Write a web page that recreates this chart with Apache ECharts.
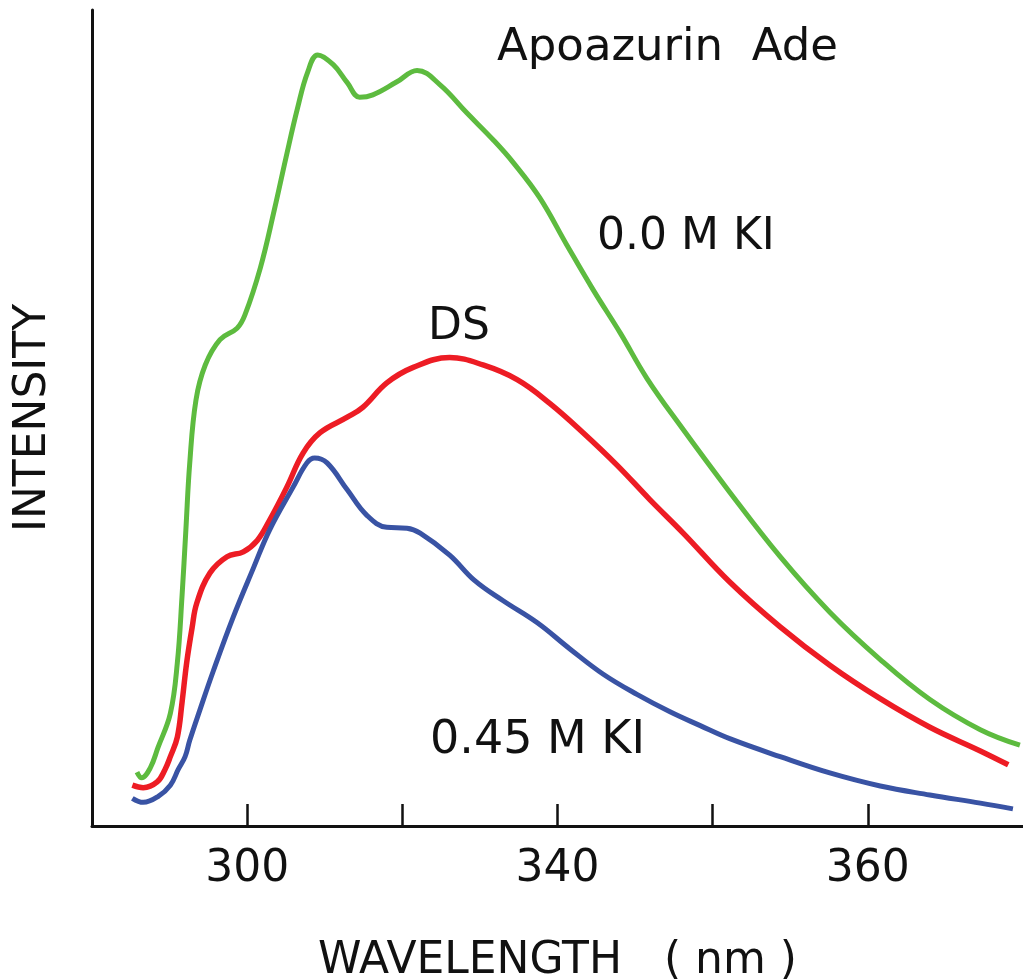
<!DOCTYPE html>
<html>
<head>
<meta charset="utf-8">
<script src="https://cdn.jsdelivr.net/npm/echarts@6/dist/echarts.min.js"></script>
<style>
html,body{margin:0;padding:0;background:#fff;}
#chart{width:1023px;height:980px;}
</style>
</head>
<body>
<div id="chart"></div>
<script>
// wavelength (nm) and intensity (arbitrary units)
var greenX = [285.8,286.4,287.5,288.5,290.1,291.0,291.6,292.1,292.6,293.4,294.6,296.5,298.7,299.7,301.7,303.5,305.0,306.5,307.8,309.1,311.1,312.9,314.5,316.2,319.3,321.9,324.9,328.3,331.7,334.3,337.7,341.2,344.6,348.1,351.5,355.8,362.2,368.7,375.1,381.6,388.0,394.5,399.6];
var greenY = [6.6,5.9,7.1,9.6,13.8,20.0,28.1,36.3,44.5,52.2,56.5,59.6,61.0,62.6,68.4,75.5,81.9,88.0,92.4,94.5,93.3,91.1,89.3,89.6,91.2,92.6,90.8,87.4,84.1,81.3,77.0,71.2,65.7,60.4,54.9,49.1,40.9,33.0,26.2,20.4,15.5,11.8,9.9];

var redX = [285.2,286.6,288.4,289.4,290.1,291.0,291.6,292.2,292.9,293.5,295.2,297.4,299.5,301.3,302.9,305.1,307.2,309.4,312.9,314.9,318.0,321.4,326.1,330.4,334.8,339.0,343.3,347.7,351.9,356.2,362.2,368.7,375.1,381.6,388.0,394.5,398.1];
var redY = [5.0,4.7,5.4,6.9,8.5,10.9,15.1,20.0,24.3,27.3,31.0,33.0,33.6,35.0,37.5,41.5,45.7,48.2,50.1,51.3,54.3,56.2,57.4,56.5,54.7,51.8,48.2,44.2,40.0,35.9,29.9,24.4,19.7,15.6,12.1,9.2,7.5];

var blueX = [285.2,286.6,288.5,290.1,291.1,292.0,292.6,293.9,295.6,298.2,300.8,302.9,305.9,307.7,308.7,310.3,312.9,315.4,318.0,320.6,322.3,326.1,329.3,333.0,337.4,341.6,345.9,350.3,354.5,358.4,362.2,368.7,375.1,381.6,388.0,394.5,398.7];
var blueY = [3.4,2.9,3.6,5.0,6.9,8.5,10.5,14.2,18.9,25.6,31.6,36.3,41.5,44.5,45.1,44.5,41.2,38.1,36.6,36.5,35.9,33.2,30.1,27.6,24.9,21.7,18.6,16.1,14.0,12.3,10.7,8.5,6.5,4.9,3.8,2.8,2.1];

var xTickValues = [300,320,340,360,380];
var xLabelValues = [300,340,380];
var xLabelTexts = ["300","340","360"];

var seriesNames = ["0.0 M KI","DS","0.45 M KI"];
var titleText = "Apoazurin  Ade";
var xName = "WAVELENGTH   ( nm )";
var yName = "INTENSITY";

function pairs(xs, ys){ var out=[]; for(var i=0;i<xs.length;i++){ out.push([xs[i], ys[i]]); } return out; }

var FONT = "DejaVu Sans";
var chart = echarts.init(document.getElementById('chart'), null, {renderer:'canvas'});
var option = {
  animation:false,
  backgroundColor:'#ffffff',
  grid:{left:92, right:0, top:10, bottom:154, containLabel:false, outerBoundsMode:'none'},
  xAxis:{
    type:'value', min:280, max:400,
    name:xName, nameLocation:'middle', nameGap:114,
    nameTextStyle:{fontFamily:FONT, fontSize:44, color:'#111'},
    axisLine:{show:true, lineStyle:{color:'#111', width:3}},
    axisTick:{show:true, inside:true, length:22, customValues:xTickValues, lineStyle:{color:'#111', width:2.5}},
    axisLabel:{show:true, customValues:xLabelValues, margin:22, fontFamily:FONT, fontSize:44, color:'#111',
      formatter:function(v){ var i=xLabelValues.indexOf(v); return i>=0 ? xLabelTexts[i] : ''; }},
    splitLine:{show:false}
  },
  yAxis:{
    type:'value', min:0, max:100,
    name:yName, nameLocation:'middle', nameGap:36, nameRotate:90,
    nameTextStyle:{fontFamily:FONT, fontSize:44, color:'#111'},
    axisLine:{show:true, lineStyle:{color:'#111', width:3}},
    axisTick:{show:false}, axisLabel:{show:false}, splitLine:{show:false}
  },
  series:[
    {name:seriesNames[0], type:'line', data:pairs(greenX,greenY), showSymbol:false, smooth:0.4,
     lineStyle:{color:'#5dbb3f', width:5}, itemStyle:{color:'#5dbb3f'}},
    {name:seriesNames[1], type:'line', data:pairs(redX,redY), showSymbol:false, smooth:0.4,
     lineStyle:{color:'#ed1c24', width:5.5}, itemStyle:{color:'#ed1c24'}},
    {name:seriesNames[2], type:'line', data:pairs(blueX,blueY), showSymbol:false, smooth:0.4,
     lineStyle:{color:'#3953a4', width:5}, itemStyle:{color:'#3953a4'}}
  ],
  graphic:[
    {type:'text', left:497, top:26, style:{text:titleText, font:'45px "DejaVu Sans"', fill:'#111'}},
    {type:'text', left:597, top:216, style:{text:seriesNames[0], font:'44px "DejaVu Sans"', fill:'#111'}},
    {type:'text', left:428, top:306, style:{text:seriesNames[1], font:'44px "DejaVu Sans"', fill:'#111'}},
    {type:'text', left:430, top:718, style:{text:seriesNames[2], font:'46px "DejaVu Sans"', fill:'#111'}}
  ]
};
chart.setOption(option);
</script>
</body>
</html>
